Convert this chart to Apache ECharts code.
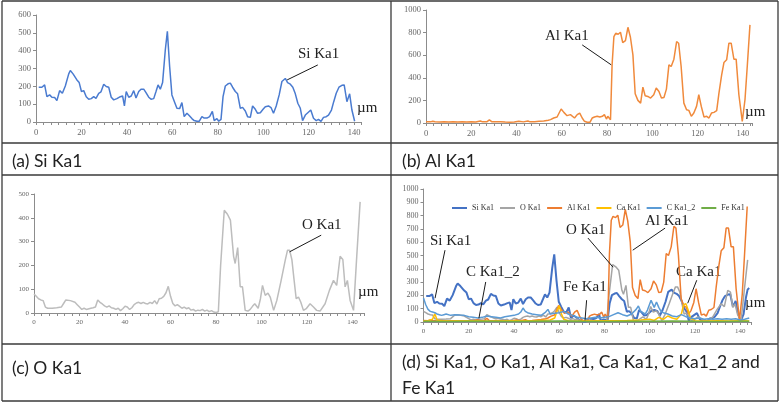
<!DOCTYPE html>
<html>
<head>
<meta charset="utf-8">
<script src="https://cdn.jsdelivr.net/npm/echarts@6/dist/echarts.min.js"></script>
<style>
  html, body { margin: 0; padding: 0; background: #fff; }
  #main { width: 781px; height: 406px; }
</style>
</head>
<body>
<div id="main"></div>
<script>
// line scan profiles, [position in µm, counts]
const siKa1 = [[1.2,195],[2.6,195],[3.8,208],[4.8,142],[6,152],[7,139],[8.2,137],[9.2,120],[10.4,176],[11.6,161],[12.9,202],[14.4,270],[15.1,289],[16.3,270],[18,236],[19,221],[20,171],[21,176],[22.1,142],[23.2,128],[24.3,131],[25.4,142],[26.4,133],[27.6,161],[28.6,169],[29.8,212],[30.9,199],[32,195],[33.1,139],[34.2,124],[35.6,131],[37.1,142],[38.1,146],[38.9,90],[39.7,171],[40.8,139],[41.9,146],[43,176],[44,135],[45.2,171],[46.2,184],[47.4,184],[48.4,165],[49.6,139],[50.6,128],[51.8,131],[52.8,171],[53.7,208],[54.7,184],[55.7,221],[56.9,405],[57.8,508],[58.8,311],[59.8,152],[60.9,114],[62,77],[63.2,75],[64.2,109],[65.2,30],[66.4,49],[67.4,36],[68.6,19],[69.6,8],[70.8,4],[71.8,4],[73,30],[74,22],[75.2,22],[76.4,30],[77.6,60],[78.4,8],[79.6,19],[80.4,4],[81.4,15],[82.3,142],[83.3,202],[84.5,214],[85.5,218],[86.5,195],[87.7,171],[88.7,158],[89.9,77],[90.9,82],[92.1,62],[93.1,30],[94.3,26],[95.3,90],[96.5,71],[97.5,49],[98.7,52],[99.9,71],[100.9,86],[102.3,90],[103.4,81],[104.5,49],[105.7,90],[107,152],[108.2,227],[109.7,244],[110.7,221],[111.9,212],[113,195],[114.1,158],[115.2,105],[116.3,77],[117.3,8],[118.5,39],[119.6,52],[120.9,67],[122.1,21],[123.3,8],[124.3,15],[125.4,4],[126.5,26],[127.7,30],[128.7,39],[130,67],[131,114],[132.1,161],[133.3,195],[134.6,206],[135.6,208],[136.8,114],[138,158],[139,67],[140.2,4]];
// the combined plot (d) keeps the Si trace running on to 144 µm
const siTail = [[141.5,60],[142.5,180],[143.3,245],[144,255]];

const alKa1 = [[0,12],[2,10],[3,15],[4,12],[6,8],[8,10],[10,8],[12,10],[14,9],[16,10],[18,8],[20,10],[22,9],[24,18],[25,10],[27,12],[28,28],[29,12],[31,10],[33,12],[35,8],[37,6],[39,8],[41,15],[43,10],[45,18],[46,10],[48,12],[50,15],[52,18],[54,25],[55,30],[56.4,44],[57.9,53],[59.7,124],[60.9,94],[62.3,65],[63.8,74],[64.5,88],[65.6,44],[66.8,74],[67.9,88],[69,44],[70,15],[71.2,6],[72.4,6],[73.4,44],[74.4,53],[75.6,59],[76.8,53],[77.9,59],[78.8,74],[79.7,35],[80.3,59],[81.5,29],[82.2,515],[83,765],[83.8,794],[84.9,785],[85.9,803],[86.9,712],[88.1,729],[89.2,847],[90.3,759],[91.4,603],[92.4,259],[93.6,200],[94.8,176],[95.8,318],[96.8,241],[98,235],[99.2,221],[100.6,250],[101.7,309],[102.9,279],[104,221],[105.1,226],[106.2,300],[107.3,515],[108.3,500],[109.5,565],[110.7,720],[111.6,706],[112.7,500],[113.9,176],[115.1,118],[116.1,112],[117.2,59],[118.3,88],[119.5,147],[120.5,250],[121.6,147],[122.8,53],[124,59],[125,44],[126.1,88],[127.2,94],[128.4,109],[129.4,265],[130.6,426],[131.6,535],[132.8,559],[133.8,706],[134.8,706],[136,565],[137,565],[138.2,250],[139.7,15],[140.9,206],[141.9,500],[143.1,868]];

const oKa1 = [[0,80],[1,70],[2,60],[3,55],[4,52],[5,25],[6,20],[8,20],[10,22],[12,25],[13,40],[14,55],[16,52],[18,45],[19,35],[20,25],[21,15],[22,20],[23,15],[25,20],[26,22],[27,25],[28,55],[29,45],[30,38],[31,30],[32,25],[33,30],[34,22],[35,20],[36,15],[37,20],[38,10],[39,18],[40,28],[41,25],[42,15],[43,22],[44,35],[45,42],[46,45],[47,40],[48,45],[49,40],[50,38],[51,45],[52,40],[53,52],[54,38],[55,60],[56,62],[57,70],[58,85],[59,112],[60,70],[61,40],[62,30],[63,35],[64,28],[65,20],[66,25],[67,18],[68,22],[69,12],[70,15],[71,8],[72,12],[73,10],[74,15],[75,8],[76,12],[77,6],[78,10],[79,4],[80,2],[81,5],[82,200],[83.6,432],[85,415],[86.3,390],[87.7,238],[88.4,208],[89.5,275],[90.6,110],[91.6,110],[92.8,11],[94,8],[95,15],[96,28],[97,39],[98.5,20],[99.5,60],[100.4,116],[101.6,74],[102.8,84],[103.8,67],[105.3,11],[106.7,53],[108.6,137],[110.4,222],[111.4,264],[112.3,264],[113.3,225],[114.3,137],[115.2,60],[116.2,67],[117.2,46],[118.4,11],[119.6,18],[121.3,39],[122.8,25],[124.2,11],[125.7,8],[127.9,39],[129.8,95],[131.6,137],[133,116],[134.5,238],[135.7,225],[136.7,110],[137.7,137],[138.9,53],[140.4,11],[141.8,236],[143.3,467]];

const caKa1 = [[0,8],[2,10],[4,20],[5,62],[6,15],[8,10],[12,8],[20,10],[30,8],[40,10],[50,12],[56,15],[58,30],[59,80],[60,122],[61,60],[62,20],[64,10],[70,8],[80,10],[90,12],[96,15],[100,20],[102,12],[104,35],[106,20],[108,45],[110,30],[112,20],[114,60],[115,130],[116,138],[117,90],[118,30],[120,10],[125,8],[130,10],[135,8],[140,10],[144,8]];

const cKa1_2 = [[0,180],[1,130],[2,95],[3,80],[4,75],[5,70],[6,60],[7,55],[8,50],[9,55],[10,60],[12,50],[14,55],[16,52],[18,50],[20,40],[22,35],[24,30],[26,35],[28,45],[30,40],[32,35],[34,30],[36,40],[38,45],[40,50],[42,60],[43,75],[44,105],[45,80],[46,70],[48,60],[50,55],[52,50],[54,75],[55,95],[56,60],[58,65],[60,70],[62,80],[64,60],[66,50],[68,35],[70,30],[72,25],[74,30],[76,35],[78,30],[80,35],[82,40],[84,55],[86,70],[88,55],[90,45],[92,60],[94,95],[95,120],[96,80],[98,60],[99,90],[100.6,163],[102,110],[103,150],[104,110],[105,80],[106,70],[108,60],[110,45],[112,40],[114,55],[116,40],[118,30],[120,25],[122,30],[124,20],[126,25],[128,20],[130,25],[132,20],[134,25],[136,20],[138,25],[140,15],[142,20],[144,30]];

const feKa1 = [[0,5],[10,4],[20,6],[30,5],[40,4],[50,6],[60,8],[70,5],[80,4],[90,6],[100,5],[110,7],[120,5],[130,4],[140,5],[144,5]];

const legendNames = ['Si Ka1', 'O Ka1', 'Al Ka1', 'Ca Ka1', 'C Ka1_2', 'Fe Ka1'];
const captions = ['(a) Si Ka1', '(b) Al Ka1', '(c) O Ka1', '(d) Si Ka1, O Ka1, Al Ka1, Ca Ka1, C Ka1_2 and', 'Fe Ka1'];

const SERIF = 'Liberation Serif';
const AXIS = '#8c8c8c';

function xAx(idx, max, fs) {
  return {
    gridIndex: idx, type: 'value', min: 0, max: max, interval: 20,
    axisLine: { lineStyle: { color: AXIS, width: 1 } },
    axisTick: { length: 3, lineStyle: { color: AXIS } },
    minorTick: { show: true, splitNumber: 6, length: 3, lineStyle: { color: AXIS } },
    splitLine: { show: false },
    axisLabel: { fontFamily: SERIF, fontSize: fs, color: '#666', margin: 6, showMaxLabel: false,
      formatter: v => (v % 20 === 0 ? String(v) : '') }
  };
}
function yAx(idx, max, interval, fs) {
  return {
    gridIndex: idx, type: 'value', min: 0, max: max, interval: interval,
    axisLine: { show: true, lineStyle: { color: AXIS, width: 1 } },
    axisTick: { show: true, length: 3, lineStyle: { color: AXIS } },
    splitLine: { show: false },
    axisLabel: { fontFamily: SERIF, fontSize: fs, color: '#666', margin: 5, formatter: v => String(v) }
  };
}
function leader(pairs) {
  return {
    silent: true, symbol: ['none', 'none'], animation: false,
    label: { show: false },
    lineStyle: { color: '#1a1a1a', width: 1, type: 'solid' },
    emphasis: { disabled: true },
    data: pairs.map(p => [{ coord: p[0] }, { coord: p[1] }])
  };
}
function line(name, data, color, xi, width, extra) {
  return Object.assign({
    name: name, type: 'line', xAxisIndex: xi, yAxisIndex: xi, data: data,
    symbol: 'none', showSymbol: false, animation: false,
    lineStyle: { color: color, width: width }, itemStyle: { color: color }
  }, extra || {});
}
function txt(x, y, s, size, font) {
  return { type: 'text', x: x, y: y, silent: true, style: {
    text: s, fontSize: size, fontFamily: font, fill: '#222', align: 'left', verticalAlign: 'middle' } };
}
function rule(x1, y1, x2, y2) {
  return { type: 'line', silent: true, shape: { x1: x1, y1: y1, x2: x2, y2: y2 }, style: { stroke: '#3a3a3a', lineWidth: 1.3 } };
}

let myChart = echarts.init(document.getElementById('main'));
myChart.setOption({
  animation: false,
  grid: [
    { left: 36, top: 15, width: 325, height: 107 },
    { left: 426, top: 10, width: 326, height: 113 },
    { left: 34, top: 194, width: 330, height: 119 },
    { left: 423.5, top: 189, width: 328, height: 133 }
  ],
  xAxis: [xAx(0, 143, 8.5), xAx(1, 144, 8.5), xAx(2, 145, 7), xAx(3, 145, 7)],
  yAxis: [yAx(0, 600, 100, 8.5), yAx(1, 1000, 200, 8.5), yAx(2, 500, 100, 7), yAx(3, 1000, 100, 8)],
  legend: {
    left: 447, top: 199, icon: 'rect', itemWidth: 15, itemHeight: 2, itemGap: 6,
    data: legendNames,
    textStyle: { fontFamily: SERIF, fontSize: 8, color: '#333' }
  },
  series: [
    line('Si Ka1 (a)', siKa1, '#4a7bd0', 0, 1.5, { markLine: leader([[[124, 320], [110.5, 236]]]) }),
    line('Al Ka1 (b)', alKa1, '#f08a3c', 1, 1.5, { markLine: leader([[[69, 691], [81.8, 515]]]) }),
    line('O Ka1 (c)', oKa1, '#bdbdbd', 2, 1.5, { markLine: leader([[[126.2, 327], [112.3, 257]]]) }),
    line('Si Ka1', siKa1.concat(siTail), '#4472c4', 3, 2),
    line('O Ka1', oKa1, '#a5a5a5', 3, 1.5),
    line('Al Ka1', alKa1, '#ed7d31', 3, 1.5),
    line('Ca Ka1', caKa1, '#ffc000', 3, 1.5),
    line('C Ka1_2', cKa1_2, '#5b9bd5', 3, 1.5),
    line('Fe Ka1', feKa1, '#70ad47', 3, 1.5, { markLine: leader([
      [[9.5, 540], [5.1, 179]],
      [[27.5, 301], [24.5, 28]],
      [[72.1, 164], [71.4, 13]],
      [[72.7, 631], [83.8, 412]],
      [[106.8, 706], [92.5, 540]],
      [[120.8, 314], [116.8, 141]]
    ]) })
  ],
  graphic: [
    // table frame
    rule(2, 1, 778, 1), rule(2, 401, 778, 401), rule(2, 1, 2, 401), rule(778, 1, 778, 401),
    rule(391, 1, 391, 401), rule(2, 143, 778, 143), rule(2, 175, 778, 175), rule(2, 344, 778, 344),
    // captions
    txt(12, 161, captions[0], 17.5, 'Lato'),
    txt(402, 161, captions[1], 17.5, 'Lato'),
    txt(12, 368, captions[2], 17.5, 'Lato'),
    txt(402, 362, captions[3], 17.5, 'Lato'),
    txt(402, 388, captions[4], 17.5, 'Lato'),
    // curve labels
    txt(298, 54, 'Si Ka1', 15, SERIF),
    txt(545, 36, 'Al Ka1', 15, SERIF),
    txt(302, 225, 'O Ka1', 15, SERIF),
    txt(430, 241, 'Si Ka1', 15, SERIF),
    txt(466, 272, 'C Ka1_2', 15, SERIF),
    txt(563, 287, 'Fe Ka1', 15, SERIF),
    txt(566, 230, 'O Ka1', 15, SERIF),
    txt(645, 221, 'Al Ka1', 15, SERIF),
    txt(676, 272, 'Ca Ka1', 15, SERIF),
    txt(357, 108, 'µm', 15, SERIF),
    txt(745, 112, 'µm', 15, SERIF),
    txt(358, 292, 'µm', 15, SERIF),
    txt(745, 303, 'µm', 15, SERIF)
  ]
});
</script>
</body>
</html>
